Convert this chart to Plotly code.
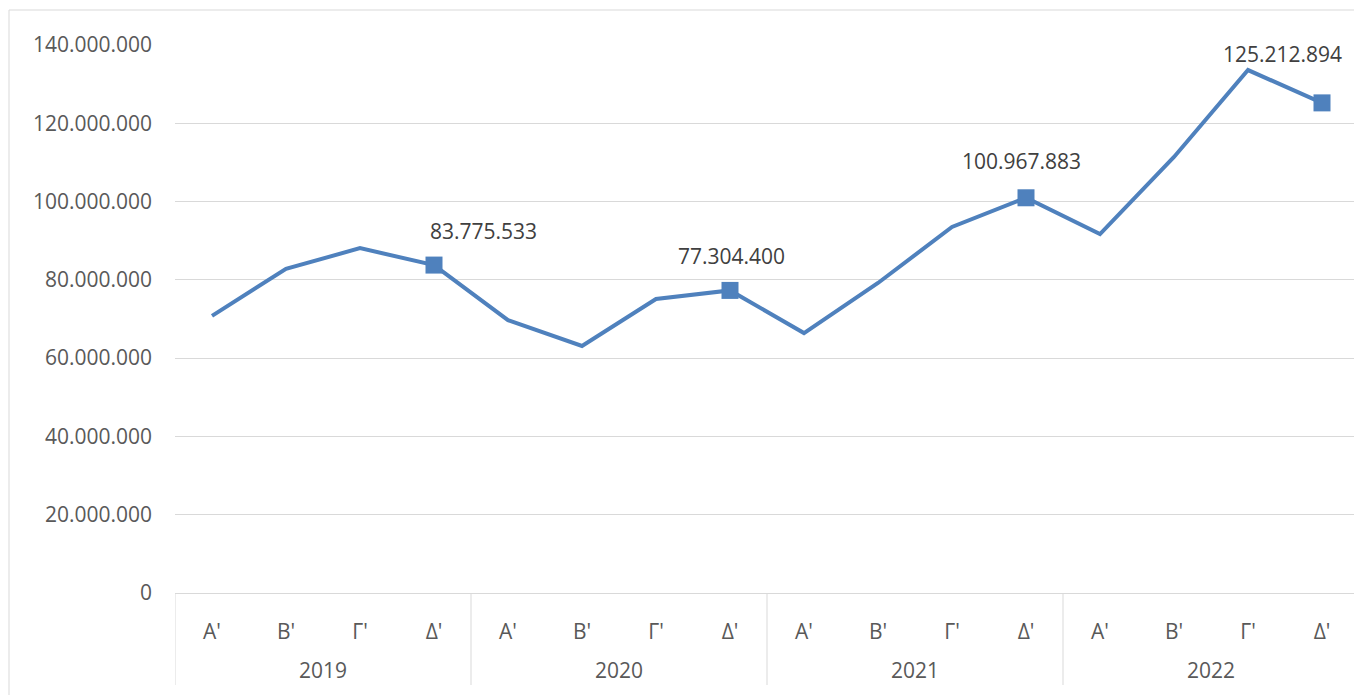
import plotly.graph_objects as go

years = ["2019", "2020", "2021", "2022"]
quarters = ["A'", "B'", "Γ'", "Δ'"]
values = [70800000, 82800000, 88100000, 83775533,
          69700000, 63100000, 75100000, 77304400,
          66400000, 79200000, 93500000, 100967883,
          91700000, 111400000, 133600000, 125212894]
label_idx = [3, 7, 11, 15]
y_ticks = [0, 20000000, 40000000, 60000000, 80000000, 100000000, 120000000, 140000000]

def fmt(v):
    return f"{v:,}".replace(",", ".")

x = list(range(len(values)))
tick_text = quarters * len(years)

LINE = "#4f81bd"
FONT = "Open Sans"
GRID = "#d9d9d9"
FS = 21
fig = go.Figure()
fig.add_trace(go.Scatter(
    x=x, y=values, mode="lines",
    line=dict(color=LINE, width=4), hoverinfo="skip", showlegend=False))
fig.add_trace(go.Scatter(
    x=[x[i] for i in label_idx], y=[values[i] for i in label_idx],
    mode="markers", marker=dict(symbol="square", size=17, color=LINE),
    showlegend=False))

# data labels (offsets in px, as placed in the reference)
label_dx = [49, 1, -5, -40]
label_dy = [34, 34, 37, 49]
for k, i in enumerate(label_idx):
    fig.add_annotation(x=x[i], y=values[i], text=fmt(values[i]), showarrow=False,
                       xshift=label_dx[k], yshift=label_dy[k],
                       font=dict(family=FONT, size=FS, color="#404040"))

W, H = 1354, 687
L, R, T, B = 167, 3, 37, 102
pw = W - L - R
ph = H - T - B

# year labels and group dividers
n_q = len(quarters)
for j, yr in enumerate(years):
    fig.add_annotation(x=j * n_q + (n_q - 1) / 2, y=-77 / ph, xref="x", yref="paper",
                       text=yr, showarrow=False, yanchor="middle",
                       font=dict(family=FONT, size=FS, color="#595959"))
for j in range(len(years) + 1):
    fig.add_shape(type="line", xref="x", yref="paper",
                  x0=j * n_q - 0.5, x1=j * n_q - 0.5, y0=0, y1=-92 / ph,
                  line=dict(color=GRID, width=1))

# outer chart border
fig.add_shape(type="rect", xref="paper", yref="paper",
              x0=(1 - L) / pw, x1=(W + 5 - L) / pw,
              y0=-(B + 5) / ph, y1=(T - 2) / ph + 1,
              line=dict(color=GRID, width=1), layer="below")

fig.update_layout(
    width=W, height=H, margin=dict(l=L, r=R, t=T, b=B),
    plot_bgcolor="white", paper_bgcolor="white",
    font=dict(family=FONT, size=FS, color="#595959"),
    separators=",.",
)
fig.update_xaxes(range=[-0.5, len(values) - 0.5], tickvals=x, ticktext=tick_text,
                 showgrid=False, showline=True, linecolor=GRID, linewidth=1,
                 ticks="", ticklabelstandoff=20, zeroline=False,
                 tickfont=dict(family=FONT, size=FS, color="#595959"))
fig.update_yaxes(range=[0, 140000000], tickvals=y_ticks,
                 ticktext=[fmt(v) for v in y_ticks], showgrid=True,
                 gridcolor=GRID, gridwidth=1, zeroline=False,
                 showline=False, ticks="", ticklabelstandoff=22,
                 tickfont=dict(family=FONT, size=FS, color="#595959"))
fig.write_html("out.html")
